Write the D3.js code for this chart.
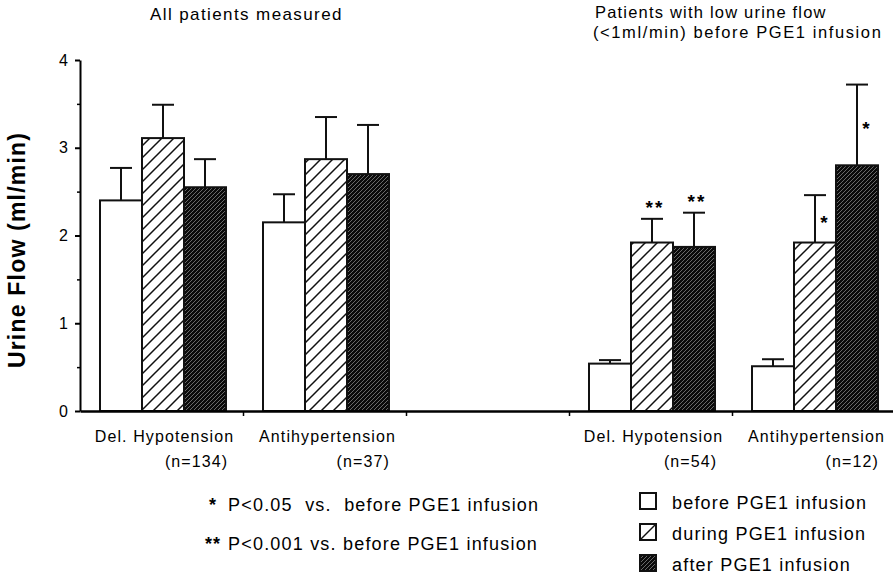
<!DOCTYPE html>
<html>
<head>
<meta charset="utf-8">
<script src="https://cdn.jsdelivr.net/npm/d3@7"></script>
<style>
  body { margin: 0; background: #fff; }
  text { font-family: "Liberation Sans", Arial, Helvetica, sans-serif; fill: #000; }
</style>
</head>
<body>
<div id="chart"></div>
<script>
// values (urine flow, ml/min, mean + error)
var slots = ["allDel", "allAnti", "gap", "lowDel", "lowAnti"];
var groupSlots = ["allDel", "allAnti", "lowDel", "lowAnti"];
var groupNames = ["Del. Hypotension", "Antihypertension", "Del. Hypotension", "Antihypertension"];
var groupN = ["(n=134)", "(n=37)", "(n=54)", "(n=12)"];
var seriesNames = ["before PGE1 infusion", "during PGE1 infusion", "after PGE1 infusion"];

var before = [2.40, 2.15, 0.54, 0.51];
var beforeErr = [0.37, 0.32, 0.04, 0.08];
var during = [3.11, 2.87, 1.92, 1.92];
var duringErr = [0.38, 0.48, 0.27, 0.54];
var after = [2.55, 2.70, 1.87, 2.80];
var afterErr = [0.32, 0.56, 0.39, 0.92];
var duringSig = ["", "", "**", "*"];
var afterSig = ["", "", "**", "*"];

var yTicks = [0, 1, 2, 3, 4];
var yMinor = [0.5, 1.5, 2.5, 3.5];
var titles = ["All patients measured", "Patients with low urine flow", "(<1ml/min) before PGE1 infusion"];
var sigNotes = [["*", "P<0.05  vs.  before PGE1 infusion"], ["**", "P<0.001 vs. before PGE1 infusion"]];

var svgWidth = 893;
var svgHeight = 576;

var svg = d3.select("#chart")
  .append("svg")
  .attr("width", svgWidth)
  .attr("height", svgHeight);

var defs = svg.append("defs");

var hatch = defs.append("pattern")
  .attr("id", "hatch")
  .attr("patternUnits", "userSpaceOnUse")
  .attr("width", 12)
  .attr("height", 12);
hatch.append("rect").attr("width", 12).attr("height", 12).attr("fill", "#fff");
hatch.append("path")
  .attr("d", "M-3,3L3,-3M0,12L12,0M9,15L15,9")
  .attr("stroke", "#111")
  .attr("stroke-width", 1.5);

var dark = defs.append("pattern")
  .attr("id", "dark")
  .attr("patternUnits", "userSpaceOnUse")
  .attr("width", 4)
  .attr("height", 4);
dark.append("rect").attr("width", 4).attr("height", 4).attr("fill", "#0a0a0a");
dark.append("path")
  .attr("d", "M-1,1L1,-1M0,4L4,0M3,5L5,3")
  .attr("stroke", "#aaa")
  .attr("stroke-width", 0.6);

var fills = ["#fff", "url(#hatch)", "url(#dark)"];

var means = [before, during, after];
var errs = [beforeErr, duringErr, afterErr];
var sigs = [null, duringSig, afterSig];

// scales
var x = d3.scaleBand().domain(slots).range([80, 895]);
var xBound = d3.scaleLinear().domain([0, slots.length]).range([80, 895]);
var xBar = d3.scaleBand().domain(seriesNames).range([20, 146]);
var y = d3.scaleLinear().domain([0, 4]).range([411, 60]);

// flatten to one record per bar
var bars = [];
groupSlots.forEach(function(slot, g) {
  seriesNames.forEach(function(s, i) {
    bars.push({
      slot: slot,
      series: s,
      si: i,
      value: means[i][g],
      err: errs[i][g],
      sig: sigs[i] ? sigs[i][g] : ""
    });
  });
});

var chartGroup = svg.append("g");

chartGroup.selectAll(".bar")
  .data(bars)
  .enter()
  .append("rect")
  .attr("class", "bar")
  .attr("x", d => x(d.slot) + xBar(d.series))
  .attr("y", d => y(d.value))
  .attr("width", xBar.bandwidth())
  .attr("height", d => y(0) - y(d.value))
  .attr("fill", d => fills[d.si])
  .attr("stroke", "#111")
  .attr("stroke-width", 2);

var errGroup = chartGroup.selectAll(".err")
  .data(bars)
  .enter()
  .append("g")
  .attr("class", "err")
  .attr("transform", d => `translate(${x(d.slot) + xBar(d.series) + xBar.bandwidth() / 2}, 0)`);

errGroup.append("line")
  .attr("y1", d => y(d.value))
  .attr("y2", d => y(d.value + d.err))
  .attr("stroke", "#111")
  .attr("stroke-width", 2);

errGroup.append("line")
  .attr("x1", -11)
  .attr("x2", 11)
  .attr("y1", d => y(d.value + d.err))
  .attr("y2", d => y(d.value + d.err))
  .attr("stroke", "#111")
  .attr("stroke-width", 2);

// significance marks: "**" above the error bar, "*" beside the stem
errGroup.filter(d => d.sig === "**")
  .append("text")
  .attr("x", 3)
  .attr("y", d => y(d.value + d.err) - 5)
  .attr("text-anchor", "middle")
  .attr("font-size", "19px")
  .attr("font-weight", "bold")
  .attr("letter-spacing", "2px")
  .text(d => d.sig);

errGroup.filter(d => d.sig === "*")
  .append("text")
  .attr("x", 9)
  .attr("y", d => (y(d.value) + y(d.value + d.err)) / 2 + 10)
  .attr("text-anchor", "middle")
  .attr("font-size", "19px")
  .attr("font-weight", "bold")
  .text(d => d.sig);

// axes
var leftAxis = d3.axisLeft(y).tickValues(yTicks).tickSize(5).tickSizeOuter(0).tickPadding(7).tickFormat(d3.format("d"));
var yAxis = chartGroup.append("g")
  .attr("transform", "translate(80, 0)")
  .call(leftAxis);
yAxis.select(".domain").attr("stroke-width", 2);
yAxis.selectAll(".tick line").attr("stroke-width", 2);
yAxis.selectAll(".tick text")
  .attr("font-size", "16px")
  .attr("font-family", "Liberation Sans, Arial, sans-serif")
  .attr("fill", "#000");

var minorAxis = chartGroup.append("g")
  .attr("transform", "translate(80, 0)")
  .call(d3.axisLeft(y).tickValues(yMinor).tickSize(3).tickSizeOuter(0).tickFormat(""));
minorAxis.select(".domain").remove();
minorAxis.selectAll(".tick line").attr("stroke-width", 1.5);

var xAxis = chartGroup.append("g")
  .attr("transform", `translate(0, ${y(0)})`)
  .call(d3.axisBottom(xBound).tickValues([1, 2, 3, 4]).tickSize(5).tickSizeOuter(0).tickFormat(""));
xAxis.select(".domain").attr("stroke-width", 2.5);
xAxis.selectAll(".tick line").attr("stroke-width", 1.5);

// y label
svg.append("text")
  .attr("transform", "translate(25, 250) rotate(-90)")
  .attr("text-anchor", "middle")
  .attr("font-size", "23px")
  .attr("font-weight", "bold")
  .attr("letter-spacing", "1.2px")
  .text("Urine Flow (ml/min)");

// panel titles
svg.append("text")
  .attr("x", 150).attr("y", 20)
  .attr("font-size", "17px")
  .attr("letter-spacing", "1.4px")
  .text(titles[0]);
svg.append("text")
  .attr("x", 595).attr("y", 18)
  .attr("font-size", "16.5px")
  .attr("letter-spacing", "1.2px")
  .text(titles[1]);
svg.append("text")
  .attr("x", 593).attr("y", 38)
  .attr("font-size", "16.5px")
  .attr("letter-spacing", "1.6px")
  .text(titles[2]);

// category labels
var catGroup = svg.selectAll(".cat")
  .data(groupSlots)
  .enter()
  .append("g")
  .attr("class", "cat");

var catNames = catGroup.append("text")
  .attr("x", d => x(d) + x.bandwidth() / 2 + 3)
  .attr("y", 442)
  .attr("text-anchor", "middle")
  .attr("font-size", "16px")
  .attr("letter-spacing", "1.1px")
  .text((d, i) => groupNames[i]);

catGroup.append("text")
  .attr("x", function(d, i) {
    var len = catNames.nodes()[i].getComputedTextLength();
    return x(d) + x.bandwidth() / 2 + 3 + len / 2 - 6;
  })
  .attr("y", 467)
  .attr("text-anchor", "end")
  .attr("font-size", "16px")
  .attr("letter-spacing", "1.1px")
  .text((d, i) => groupN[i]);

// significance notes
var notes = svg.selectAll(".note")
  .data(sigNotes)
  .enter()
  .append("g")
  .attr("class", "note")
  .attr("transform", (d, i) => `translate(0, ${511 + i * 39})`);
notes.append("text")
  .attr("x", 213)
  .attr("text-anchor", "middle")
  .attr("font-size", "18px")
  .attr("font-weight", "bold")
  .attr("letter-spacing", "1px")
  .text(d => d[0]);
notes.append("text")
  .attr("x", 228)
  .attr("font-size", "18px")
  .attr("letter-spacing", "1.2px")
  .style("white-space", "pre")
  .text(d => d[1]);

// legend
var legend = svg.selectAll(".legend")
  .data(seriesNames)
  .enter()
  .append("g")
  .attr("class", "legend")
  .attr("transform", (d, i) => `translate(640, ${493 + i * 31})`);
legend.append("rect")
  .attr("width", 16)
  .attr("height", 16)
  .attr("fill", (d, i) => i === 2 ? fills[2] : "#fff")
  .attr("stroke", "#111")
  .attr("stroke-width", 2);
legend.filter((d, i) => i === 1)
  .append("line")
  .attr("x1", 0).attr("y1", 16)
  .attr("x2", 16).attr("y2", 0)
  .attr("stroke", "#111")
  .attr("stroke-width", 1.5);
legend.append("text")
  .attr("x", 32)
  .attr("y", 16)
  .attr("font-size", "18px")
  .attr("letter-spacing", "1.2px")
  .text(d => d);
</script>
</body>
</html>
